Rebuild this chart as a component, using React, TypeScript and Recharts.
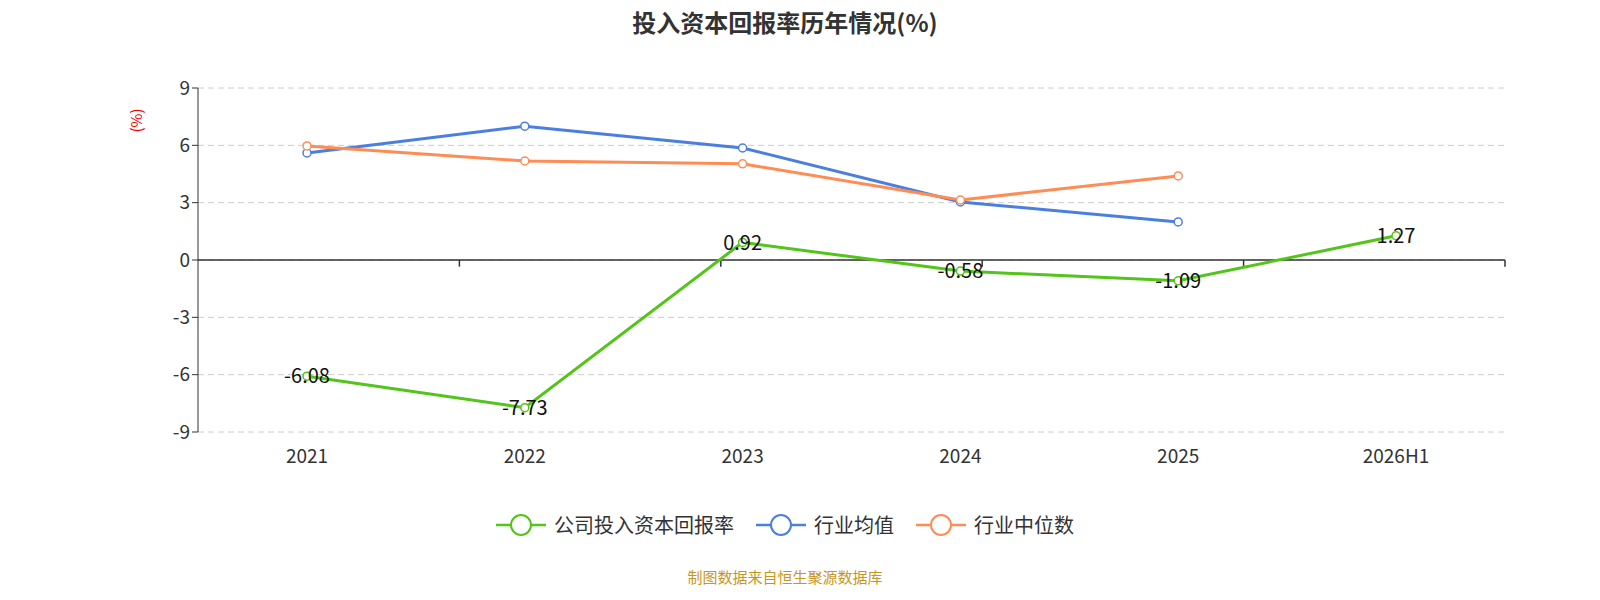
import React from 'react';
import { LineChart, Line, XAxis, YAxis, CartesianGrid, ReferenceLine, LabelList } from 'recharts';

const years = ['2021', '2022', '2023', '2024', '2025', '2026H1'];
const companyRoic = [-6.08, -7.73, 0.92, -0.58, -1.09, 1.27];
const industryAvg = [5.6, 7.0, 5.86, 3.04, 1.99, null];
const industryMedian = [5.97, 5.18, 5.03, 3.14, 4.4, null];
const yTicks = [-9, -6, -3, 0, 3, 6, 9];
const boundaries = [1, 2, 3, 4, 5, 6];

const data = years.map((year, i) => ({
  year,
  company: companyRoic[i],
  avg: industryAvg[i],
  median: industryMedian[i],
}));

const legendItems = [
  { name: '公司投入资本回报率', color: '#52c41a' },
  { name: '行业均值', color: '#4a7fe0' },
  { name: '行业中位数', color: '#ff8c55' },
];

const font = '"Noto Sans CJK SC", "Noto Sans", sans-serif';

export default function App() {
  return (
    <div style={{ position: 'absolute', left: 0, top: 0, width: 1600, height: 600, background: '#fff', fontFamily: font }}>
      <div style={{ position: 'absolute', top: 4, width: 1570, textAlign: 'center', fontSize: 24, fontWeight: 'bold', color: '#333' }}>
        投入资本回报率历年情况(%)
      </div>
      <div style={{ position: 'absolute', left: 124, top: 110, transform: 'rotate(-90deg)', color: 'red', fontSize: 15 }}>(%)</div>
      <LineChart width={1600} height={480} data={data} margin={{ top: 88, right: 95, left: 0, bottom: 18 }}>
        <CartesianGrid horizontal vertical={false} stroke="#ccc" strokeDasharray="6 4" />
        <XAxis dataKey="year" axisLine={false} tickLine={false} height={30} padding={{ left: 109, right: 109 }}
          tick={{ fontSize: 19, fill: '#333', fontFamily: font }} tickMargin={12} />
        <XAxis xAxisId="b" type="number" domain={[0, 6]} hide />
        <YAxis domain={[-9, 9]} ticks={yTicks} width={198} axisLine={{ stroke: '#333' }}
          tickLine={{ stroke: '#333' }} tick={{ fontSize: 19, fill: '#333', fontFamily: font }} />
        <ReferenceLine y={0} stroke="#333" strokeWidth={1.5} />
        {boundaries.map((b) => (
          <ReferenceLine key={b} xAxisId="b" segment={[{ x: b, y: 0 }, { x: b, y: -0.35 }]} stroke="#333" strokeWidth={1.5} />
        ))}
        <Line dataKey="avg" stroke="#4a7fe0" strokeWidth={3} isAnimationActive={false}
          dot={{ r: 4, fill: '#fff', stroke: '#4a7fe0', strokeWidth: 1.5 }} />
        <Line dataKey="median" stroke="#ff8c55" strokeWidth={3} isAnimationActive={false}
          dot={{ r: 4, fill: '#fff', stroke: '#ff8c55', strokeWidth: 1.5 }} />
        <Line dataKey="company" stroke="#52c41a" strokeWidth={3} isAnimationActive={false}
          dot={{ r: 4, fill: '#fff', stroke: '#52c41a', strokeWidth: 1.5 }}>
          <LabelList dataKey="company" position="center" style={{ fontSize: 20, fill: '#111', fontFamily: font }} />
        </Line>
      </LineChart>
      <div style={{ position: 'absolute', top: 510, width: 1570, display: 'flex', justifyContent: 'center', gap: 22, fontSize: 20, color: '#333' }}>
        {legendItems.map((it) => (
          <div key={it.name} style={{ display: 'flex', alignItems: 'center', gap: 8 }}>
            <svg width={50} height={28}>
              <line x1={0} y1={14} x2={50} y2={14} stroke={it.color} strokeWidth={2.5} />
              <circle cx={25} cy={14} r={10} fill="#fff" stroke={it.color} strokeWidth={2} />
            </svg>
            <span>{it.name}</span>
          </div>
        ))}
      </div>
      <div style={{ position: 'absolute', top: 566, width: 1570, textAlign: 'center', fontSize: 15, color: '#c8961e' }}>
        制图数据来自恒生聚源数据库
      </div>
    </div>
  );
}
